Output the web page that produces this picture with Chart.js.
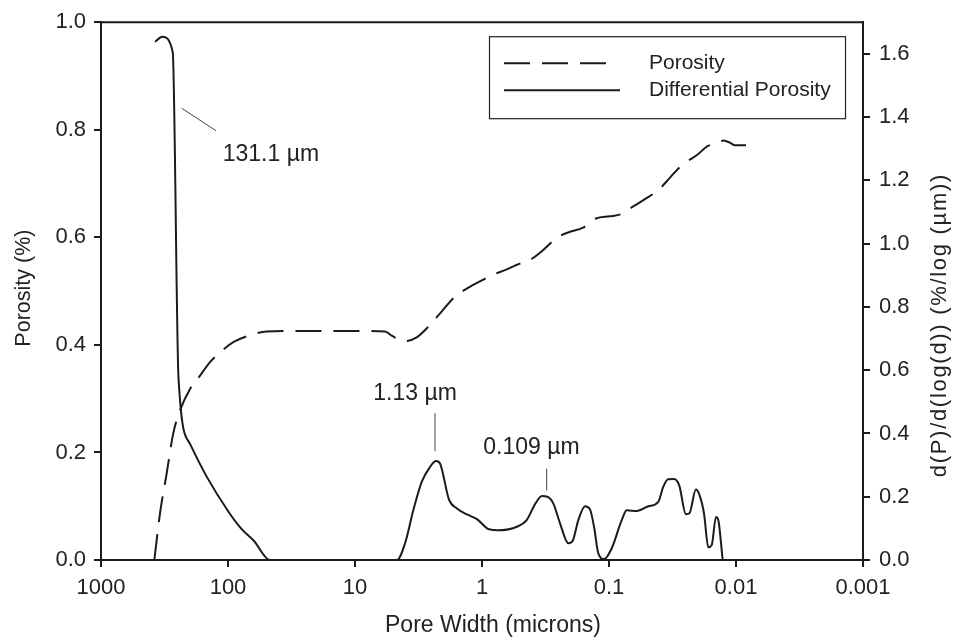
<!DOCTYPE html>
<html><head><meta charset="utf-8">
<script src="https://cdn.jsdelivr.net/npm/chart.js@4.4.1/dist/chart.umd.min.js"></script>
<style>html,body{margin:0;padding:0;background:#fff;}#wrap{width:974px;height:637px;}</style>
</head><body><div id="wrap"><canvas id="c" width="974" height="637"></canvas></div>
<script>
// ---- data ----
const xTickValues = [1000, 100, 10, 1, 0.1, 0.01, 0.001];
const xTickLabels = ['1000', '100', '10', '1', '0.1', '0.01', '0.001'];

const porosityWidth = [380.2, 343, 304, 270, 239, 199, 166, 138.6, 115.6, 90.9, 67.1, 49.6, 27.1, 13.1, 5.80, 5.14, 4.04, 3.27, 2.57, 2.08, 1.63, 1.31, 1.04, 0.804, 0.659, 0.530, 0.419, 0.331, 0.2615, 0.210, 0.160, 0.1266, 0.0983, 0.0804, 0.0659, 0.0521, 0.0404, 0.0331, 0.0276, 0.0239, 0.0203, 0.0166, 0.0142, 0.0126, 0.01115, 0.0102, 0.00834, 0.00709];
const porosity = [0.0, 0.087, 0.161, 0.235, 0.278, 0.318, 0.343, 0.368, 0.386, 0.405, 0.418, 0.425, 0.426, 0.426, 0.425, 0.417, 0.407, 0.414, 0.437, 0.462, 0.490, 0.505, 0.518, 0.531, 0.539, 0.549, 0.558, 0.576, 0.598, 0.609, 0.618, 0.635, 0.639, 0.643, 0.656, 0.671, 0.689, 0.711, 0.731, 0.742, 0.753, 0.770, 0.774, 0.780, 0.776, 0.771, 0.771, 0.771];

const diffWidth = [375.6, 329, 272.5, 245.3, 199, 146.4, 100, 79, 62.4, 46.7, 27.1, 10.9, 4.67, 4.04, 3.475, 2.984, 2.567, 2.302, 2.141, 1.819, 1.574, 1.313, 1.095, 0.881, 0.748, 0.5253, 0.4464, 0.379, 0.337, 0.306, 0.2746, 0.243, 0.209, 0.193, 0.1744, 0.1545, 0.1411, 0.1312, 0.1214, 0.1090, 0.0952, 0.0794, 0.0725, 0.0605, 0.0490, 0.0409, 0.0374, 0.0343, 0.0308, 0.0280, 0.0248, 0.0233, 0.0207, 0.0195, 0.01786, 0.01652, 0.01553, 0.01437, 0.01378, 0.01273];
const diffPorosity = [1.638, 1.654, 1.606, 0.575, 0.367, 0.262, 0.155, 0.10, 0.06, 0, 0, 0, 0, 0.052, 0.157, 0.247, 0.294, 0.313, 0.305, 0.191, 0.163, 0.144, 0.129, 0.097, 0.094, 0.106, 0.125, 0.179, 0.202, 0.200, 0.179, 0.116, 0.053, 0.061, 0.126, 0.170, 0.160, 0.105, 0.021, 0.003, 0.037, 0.126, 0.157, 0.155, 0.170, 0.184, 0.231, 0.255, 0.256, 0.236, 0.145, 0.147, 0.223, 0.208, 0.147, 0.040, 0.047, 0.136, 0.126, 0];

const seriesNames = ['Porosity', 'Differential Porosity'];
const axisTitles = ['Pore Width (microns)', 'Porosity (%)', 'd(P)/d(log(d)) (%/log (µm))'];

// peak annotations (pore width, differential porosity value)
const noteLabels = ['131.1 µm', '1.13 µm', '0.109 µm'];
const noteWidth = [110, 7.18, 0.977];
const noteValue = [1.262, 0.507, 0.334];
const leaderWidthA = [231.6, 2.344, 0.3095];
const leaderValueA = [1.428, 0.464, 0.289];
const leaderWidthB = [124.3, 2.344, 0.3095];
const leaderValueB = [1.357, 0.344, 0.220];

// ---- style ----
const FONT = '"Liberation Sans", Arial, Helvetica, sans-serif';
const INK = '#1b1b1b';
const TXT = '#222';

const decor = {
  id: 'decor',
  afterDraw(chart) {
    const {ctx, chartArea: a, scales} = chart;
    const xs = scales.x, yr = scales.y2;
    ctx.save();
    // top frame line
    ctx.strokeStyle = INK; ctx.lineWidth = 2; ctx.setLineDash([]);
    ctx.beginPath(); ctx.moveTo(a.left - 1, a.top); ctx.lineTo(a.right + 1, a.top); ctx.stroke();

    // leader lines
    ctx.strokeStyle = '#444'; ctx.lineWidth = 1;
    for (let i = 0; i < noteLabels.length; i++) {
      ctx.beginPath();
      ctx.moveTo(xs.getPixelForValue(leaderWidthA[i]), yr.getPixelForValue(leaderValueA[i]));
      ctx.lineTo(xs.getPixelForValue(leaderWidthB[i]), yr.getPixelForValue(leaderValueB[i]));
      ctx.stroke();
    }
    // annotation text
    ctx.fillStyle = TXT; ctx.font = '23px ' + FONT;
    ctx.textAlign = 'left'; ctx.textBaseline = 'alphabetic';
    for (let i = 0; i < noteLabels.length; i++) {
      ctx.fillText(noteLabels[i], xs.getPixelForValue(noteWidth[i]), yr.getPixelForValue(noteValue[i]));
    }

    // legend
    const bw = 356, bh = 82;
    const bx = a.right - 18 - bw, by = a.top + 14;
    ctx.strokeStyle = '#222'; ctx.lineWidth = 1.2;
    ctx.strokeRect(bx + 0.5, by + 0.5, bw, bh);
    ctx.strokeStyle = INK; ctx.lineWidth = 2;
    ctx.setLineDash([26, 12]);
    ctx.beginPath(); ctx.moveTo(bx + 15, by + 27); ctx.lineTo(bx + 118, by + 27); ctx.stroke();
    ctx.setLineDash([]);
    ctx.beginPath(); ctx.moveTo(bx + 15, by + 54); ctx.lineTo(bx + 131, by + 54); ctx.stroke();
    ctx.fillStyle = TXT; ctx.font = '21px ' + FONT; ctx.textBaseline = 'middle';
    ctx.fillText(seriesNames[0], bx + 160, by + 27);
    ctx.fillText(seriesNames[1], bx + 160, by + 54);

    // axis titles
    ctx.textAlign = 'center'; ctx.textBaseline = 'middle';
    ctx.font = '23px ' + FONT;
    ctx.fillText(axisTitles[0], (a.left + a.right) / 2 + 11, chart.height - 11);
    ctx.font = '21.5px ' + FONT;
    ctx.save(); ctx.translate(24, (a.top + a.bottom) / 2 - 3); ctx.rotate(-Math.PI / 2);
    ctx.fillText(axisTitles[1], 0, 0); ctx.restore();
    ctx.font = '22px ' + FONT;
    ctx.save(); ctx.translate(940, (a.top + a.bottom) / 2 + 34); ctx.rotate(-Math.PI / 2);
    if ('letterSpacing' in ctx) ctx.letterSpacing = '1.7px';
    ctx.fillText(axisTitles[2], 0, 0); ctx.restore();
    ctx.restore();
  }
};

const tickFont = {family: FONT, size: 22};
const gridOpts = {drawOnChartArea: false, drawTicks: true, tickLength: 7, color: INK, lineWidth: 2};
const borderOpts = {display: true, color: INK, width: 2};

new Chart(document.getElementById('c'), {
  type: 'line',
  data: {
    datasets: [
      {
        label: seriesNames[0], yAxisID: 'y',
        data: porosityWidth.map((w, i) => ({x: w, y: porosity[i]})),
        borderColor: INK, borderWidth: 2, borderDash: [26, 12],
        pointRadius: 0, fill: false, cubicInterpolationMode: 'monotone'
      },
      {
        label: seriesNames[1], yAxisID: 'y2',
        data: diffWidth.map((w, i) => ({x: w, y: diffPorosity[i]})),
        borderColor: INK, borderWidth: 2,
        pointRadius: 0, fill: false, cubicInterpolationMode: 'monotone'
      }
    ]
  },
  options: {
    responsive: false, animation: false, devicePixelRatio: 1,
    layout: {padding: {top: 20, left: 0, right: 0, bottom: 0}},
    plugins: {legend: {display: false}, tooltip: {enabled: false}},
    scales: {
      x: {
        type: 'logarithmic', position: 'bottom', reverse: true, min: 0.001, max: 1000,
        afterBuildTicks: s => { s.ticks = xTickValues.map(v => ({value: v, major: true})); },
        afterFit: s => { s.height = 77; },
        ticks: {
          callback: v => xTickLabels[xTickValues.indexOf(v)],
          font: tickFont, color: TXT, padding: 8, maxRotation: 0, minRotation: 0, autoSkip: false
        },
        grid: gridOpts, border: borderOpts
      },
      y: {
        type: 'linear', position: 'left', min: 0, max: 1,
        afterFit: s => { s.width = 101; },
        ticks: {stepSize: 0.2, callback: v => v.toFixed(1), font: tickFont, color: TXT, padding: 8},
        grid: gridOpts, border: borderOpts
      },
      y2: {
        type: 'linear', position: 'right', min: 0, max: 1.7,
        afterFit: s => { s.width = 111; },
        ticks: {stepSize: 0.2, includeBounds: false, callback: v => v.toFixed(1), font: tickFont, color: TXT, padding: 9},
        grid: gridOpts, border: borderOpts
      }
    }
  },
  plugins: [decor]
});
</script>
</body></html>
